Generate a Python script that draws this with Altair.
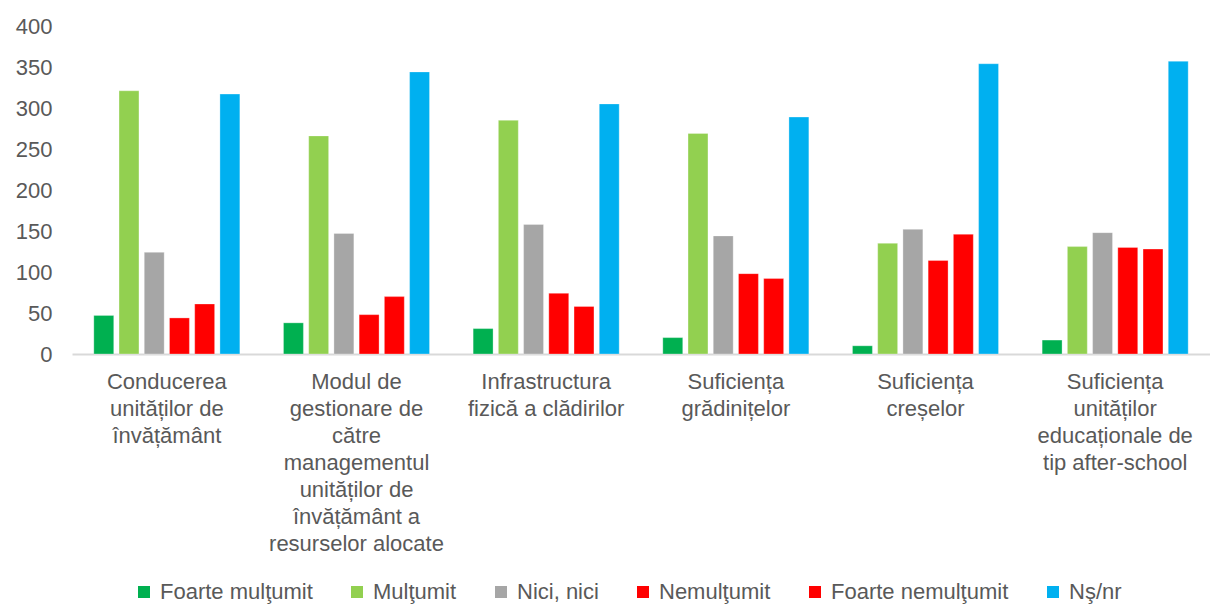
import altair as alt
import pandas as pd

categories = [
    "Conducerea|unităților de|învățământ",
    "Modul de|gestionare de|către|managementul|unităților de|învățământ  a|resurselor alocate",
    "Infrastructura|fizică a clădirilor",
    "Suficiența|grădinițelor",
    "Suficiența|creșelor",
    "Suficiența|unităților|educaționale de|tip after-school",
]
series = ["Foarte mulţumit", "Mulţumit", "Nici, nici", "Nemulţumit", "Foarte nemulţumit", "Nş/nr"]
colors = ["#00B050", "#92D050", "#A6A6A6", "#FF0000", "#FF0000", "#00B0F0"]

foarte_multumit = [47, 38, 31, 20, 10, 17]
multumit = [321, 266, 285, 269, 135, 131]
nici_nici = [124, 147, 158, 144, 152, 148]
nemultumit = [44, 48, 74, 98, 114, 130]
foarte_nemultumit = [61, 70, 58, 92, 146, 128]
ns_nr = [317, 344, 305, 289, 354, 357]

values = [foarte_multumit, multumit, nici_nici, nemultumit, foarte_nemultumit, ns_nr]
rows = []
for s, vals in zip(series, values):
    for c, v in zip(categories, vals):
        rows.append({"cat": c, "series": s, "value": v})
df = pd.DataFrame(rows)

FONT = "Liberation Sans"
TXT = "#595959"

chart = alt.Chart(df).mark_bar(stroke="white", strokeWidth=0.6, strokeOpacity=0.5).encode(
    x=alt.X("cat:N", sort=categories, title=None,
            scale=alt.Scale(paddingInner=0.23, paddingOuter=0.115),
            axis=alt.Axis(labelAngle=0, labelExpr="split(datum.value, '|')",
                          labelFont=FONT, labelFontSize=22, labelColor=TXT,
                          labelLineHeight=27, labelBaseline="top", labelPadding=17,
                          ticks=False, domainColor="#D9D9D9", domainWidth=2,
                          labelLimit=300)),
    xOffset=alt.XOffset("series:N", sort=series, scale=alt.Scale(paddingInner=0.21, paddingOuter=0)),
    y=alt.Y("value:Q", title=None,
            scale=alt.Scale(domain=[0, 400], nice=False),
            axis=alt.Axis(values=[0, 50, 100, 150, 200, 250, 300, 350, 400],
                          grid=False, domain=False, ticks=False,
                          labelFont=FONT, labelFontSize=22, labelColor=TXT,
                          labelPadding=20)),
    color=alt.Color("series:N", sort=series,
                    scale=alt.Scale(domain=series, range=colors),
                    legend=alt.Legend(title=None, orient="none", direction="horizontal",
                                      columns=6, legendX=61, legendY=555,
                                      gridAlign="none",
                                      symbolType="square", symbolSize=144,
                                      symbolStrokeWidth=0,
                                      labelFont=FONT, labelFontSize=22, labelColor=TXT,
                                      labelOffset=5, columnPadding=33, labelLimit=400)),
).properties(
    width=1138, height=328,
    autosize=alt.AutoSizeParams(type="none"),
    padding={"left": 64, "top": 18, "right": 0, "bottom": 250},
).configure_view(stroke=None)

chart.save("out.html", embed_options={"renderer": "svg", "actions": False})
